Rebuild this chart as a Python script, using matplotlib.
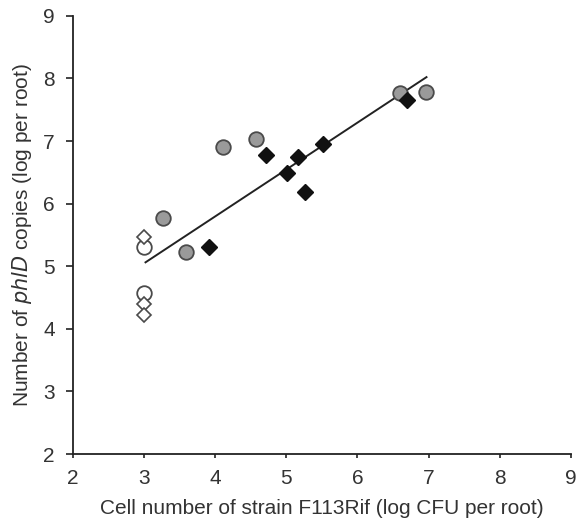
from matplotlib import pyplot as plt
import numpy as np

# grey circles
grey_x = [3.27, 3.59, 4.11, 4.58, 6.60, 6.96]
grey_y = [5.77, 5.22, 6.90, 7.03, 7.76, 7.78]

# open circles
open_circle_x = [3.0, 3.0]
open_circle_y = [5.31, 4.58]

# open diamonds
open_diamond_x = [3.0, 3.0, 3.0]
open_diamond_y = [5.46, 4.40, 4.22]

# black diamonds
black_x = [3.91, 4.72, 5.01, 5.16, 5.26, 5.51, 6.69]
black_y = [5.31, 6.77, 6.49, 6.74, 6.18, 6.95, 7.65]

# regression line
fit_slope = 0.749
fit_intercept = 2.80
fit_xrange = [3.02, 6.97]

plt.rcParams['font.family'] = ['Liberation Sans', 'DejaVu Sans']
text_color = '#333333'
font_size = 15

fig = plt.figure(figsize=(5.79, 5.27), dpi=100)
ax = fig.add_axes([0.126, 0.1385, 0.86, 0.8315])

fx = np.array(fit_xrange)
ax.plot(fx, fit_slope * fx + fit_intercept, '-', color='#222222', lw=1.4, zorder=1)

ax.plot(grey_x, grey_y, 'o', ms=10.5, mfc='#9a9a9a', mec='#4a4a4a', mew=1.3, zorder=3)
ax.plot(open_circle_x, open_circle_y, 'o', ms=10.5, mfc='white', mec='#4a4a4a', mew=1.3, zorder=3)
ax.plot(open_diamond_x, open_diamond_y, 'D', ms=7.5, mfc='white', mec='#4a4a4a', mew=1.2, zorder=4)
ax.plot(black_x, black_y, 'D', ms=8, mfc='#111111', mec='#111111', mew=1, zorder=3)

ax.set_xlim(2, 9)
ax.set_ylim(2, 9)
ax.set_xticks(range(2, 10))
ax.set_yticks(range(2, 10))
ax.spines['right'].set_visible(False)
ax.spines['top'].set_visible(False)
for s in ['left', 'bottom']:
    ax.spines[s].set_color('#222222')
    ax.spines[s].set_linewidth(1.3)
ax.tick_params(direction='out', width=1.2, color='#222222',
               labelsize=font_size, labelcolor=text_color)
ax.tick_params(axis='y', length=5, pad=8)
ax.tick_params(axis='x', length=3, pad=8)

ax.set_xlabel("Cell number of strain F113Rif (log CFU per root)",
              fontsize=font_size, color=text_color, labelpad=8)
ax.set_ylabel("Number of $\\it{phlD}$ copies (log per root)",
              fontsize=font_size, color=text_color, labelpad=7)

plt.savefig("out.png", dpi=100)
